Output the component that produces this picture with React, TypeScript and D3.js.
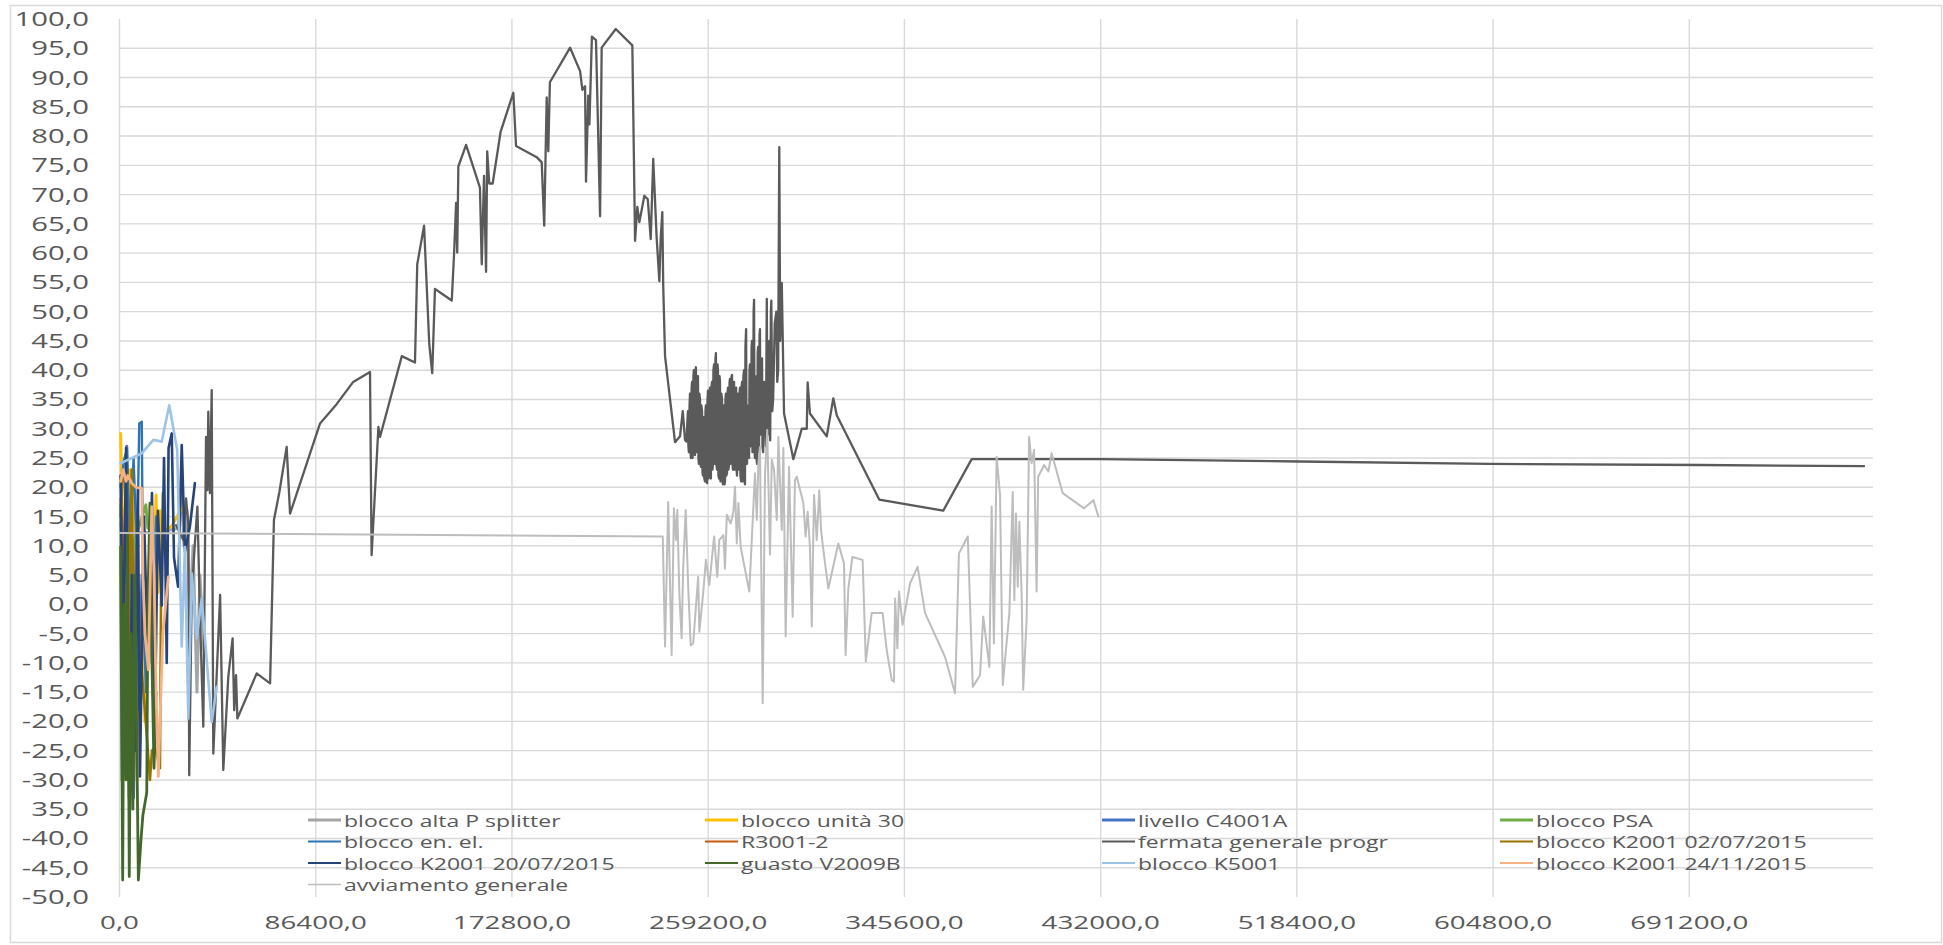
import React from "react";
import * as d3 from "d3";

type Pt = [number, number];

// ---------- axis ticks ----------
const xTickValues = [0, 86400, 172800, 259200, 345600, 432000, 518400, 604800, 691200];
const xTickLabels = ["0,0", "86400,0", "172800,0", "259200,0", "345600,0", "432000,0", "518400,0", "604800,0", "691200,0"];
const yTickValues = [100, 95, 90, 85, 80, 75, 70, 65, 60, 55, 50, 45, 40, 35, 30, 25, 20, 15, 10, 5, 0, -5, -10, -15, -20, -25, -30, -35, -40, -45, -50];
const yTickLabels = ["100,0", "95,0", "90,0", "85,0", "80,0", "75,0", "70,0", "65,0", "60,0", "55,0", "50,0", "45,0", "40,0", "35,0", "30,0", "25,0", "20,0", "15,0", "10,0", "5,0", "0,0", "-5,0", "-10,0", "-15,0", "-20,0", "-25,0", "-30,0", "35,0", "-40,0", "-45,0", "-50,0"];
const yGridValues = [95, 90, 85, 80, 75, 70, 65, 60, 55, 50, 45, 40, 35, 30, 25, 20, 15, 10, 5, 0, -5, -10, -15, -20, -25, -30, -35, -40, -45];

// ---------- series data: [seconds, value] ----------
const bloccoAltaPSplitter: Pt[] = [
  [500, 12.2], [17800, 12.3], [25800, 13], [27100, 20], [28400, 10], [29700, 16], [31000, -2], [32400, 10], [34100, -15], [35400, 5], [37200, -8],
];
const bloccoUnita30: Pt[] = [
  [500, 29.2], [1100, 18], [2000, 11], [2900, -28], [3700, 15], [4600, 23], [6100, 23], [6800, -10], [7700, -30], [8600, 2], [9900, 1.3],
  [11200, -20], [12500, -5], [13400, 13], [14700, -3], [16100, 18.7], [16900, 2], [17800, 16], [20000, 12.5], [23000, 13.4], [27400, 16.4],
];
const livelloC4001A: Pt[] = [
  [500, 14], [2000, 5], [3200, 27], [4000, -22], [5100, 18], [6200, -33], [7300, 12], [8600, -18], [9900, 5],
];
const bloccoPSA: Pt[] = [
  [500, 17], [1100, -30], [2000, -28], [3300, 5], [4600, -20], [5900, 10], [11600, 17], [12500, 13],
];
const bloccoEnEl: Pt[] = [
  [500, 20], [2000, 24.7], [3300, 26.5], [4600, 10], [6200, 25], [7700, 8], [8700, 30.9], [9800, 31.2], [10400, 0], [11700, -15], [13000, 5], [14300, -10], [16100, 15],
];
const r3001_2: Pt[] = [
  [500, 18], [1100, 14], [1700, 6.4], [2400, -10], [3300, 15], [4200, 0], [5100, -12], [5900, 8],
];
const fermataGeneraleProgr: Pt[] = [
  [24900, 13.5], [28100, 11.0], [29300, 18.1], [30300, 13.8], [30700, -29.2], [31800, 1.9], [33200, 10.4], [34300, 16.7], [35400, -1.5],
  [36900, -20.9], [38100, 28.6], [38700, 19.5], [39100, 32.9], [39800, 19.0], [40600, 36.6], [41300, -25.5], [44300, 1.6], [45700, -28.3],
  [47900, -12.4], [49800, -5.8], [50500, -18.1], [51300, -12.1], [51900, -19.5], [60400, -11.8], [66300, -13.5], [68000, 14.4], [70400, 19.2],
  [73600, 26.9], [75100, 15.5], [88300, 30.9], [95600, 34.2], [102900, 38.0], [110300, 39.7], [111000, 8.4], [114000, 30.3], [114700, 28.6],
  [124300, 42.4], [130100, 41.3], [131100, 58.1], [134100, 64.7], [136400, 44.4], [137700, 39.5], [138900, 53.9], [142600, 52.9], [146300, 51.9],
  [147300, 59.8], [148200, 68.6], [148700, 60.1], [149200, 74.8], [152600, 78.5], [158700, 71.2], [159500, 58.1], [160500, 73.2], [161400, 56.8],
  [161900, 77.4], [162800, 71.9], [164300, 71.9], [167800, 80.7], [173400, 87.4], [174600, 78.3], [183700, 76.4], [185900, 75.5], [187000, 64.7],
  [188100, 86.6], [188800, 77.4], [189500, 89.2], [198400, 95.1], [202800, 91.1], [203800, 87.9], [205000, 88.5], [205400, 72.2], [206400, 86.9],
  [206900, 82.0], [208000, 97.0], [209800, 96.4], [211600, 66.3], [212300, 95.1], [218500, 98.3], [225800, 95.5], [227000, 62.1], [228000, 67.9],
  [228900, 65.3], [231100, 69.8], [232600, 69.2], [233900, 62.4], [235000, 76.1], [236500, 62.7], [237700, 55.2], [238300, 62.7], [239000, 67.0],
  [239400, 54.5], [240200, 42.4], [244600, 27.7], [246800, 28.7], [248000, 33.0], [249000, 28.1],
  [249700, 27.8], [250000, 31], [250300, 33], [250500, 27], [250700, 26], [251000, 34], [251200, 36], [251400, 26], [251600, 25], [251900, 37],
  [252100, 38], [252300, 25], [252500, 26], [252700, 39], [252900, 40], [253100, 26], [253400, 25.5], [253600, 40], [253800, 40.5], [254000, 26],
  [254300, 27], [254500, 38], [254700, 39], [254900, 25], [255100, 24], [255300, 36], [255600, 35], [255800, 24], [256000, 23.5], [256200, 34],
  [256500, 33], [256700, 22.5], [256900, 22], [257100, 32], [257300, 31], [257500, 21.5], [257800, 21], [258000, 33], [258200, 34], [258400, 21],
  [258700, 20.7], [258900, 35], [259100, 36.5], [259300, 21.5], [259500, 22], [259800, 36], [260000, 37], [260200, 22], [260400, 21.5], [260600, 37],
  [260900, 38], [261100, 23], [261300, 24], [261500, 40], [261800, 41], [262000, 24], [262200, 25], [262400, 42], [262600, 42.9], [262800, 24],
  [263100, 23], [263300, 41], [263500, 40], [263700, 22], [264000, 21.5], [264200, 39], [264400, 38], [264600, 21], [264800, 22], [265000, 36],
  [265300, 35], [265500, 21], [265700, 20.5], [265900, 33], [266200, 34], [266400, 20.5], [266600, 21], [266800, 35], [267000, 36], [267200, 22],
  [267500, 22.5], [267700, 36], [267900, 37], [268100, 23], [268400, 24], [268600, 38], [268800, 38.5], [269000, 24], [269300, 25], [269500, 39],
  [269700, 39.2], [269900, 24], [270100, 23], [270300, 37], [270600, 38], [270800, 23], [271000, 24], [271200, 36], [271500, 37], [271700, 23],
  [271900, 22], [272100, 35], [272300, 36], [272500, 23], [272800, 23.5], [273000, 36], [273200, 37], [273400, 22], [273700, 21], [273900, 37],
  [274100, 38], [274300, 21], [274500, 22], [274700, 39], [275000, 40], [275200, 21], [275400, 20.5], [275600, 44], [275900, 47], [276100, 25],
  [276300, 24], [276500, 34], [276800, 33], [277000, 26], [277200, 25], [277400, 40], [277600, 41], [277800, 27], [278100, 28], [278300, 44],
  [278500, 45], [278700, 26], [279000, 27], [279200, 50], [279400, 52], [279600, 26], [279800, 25], [280000, 39], [280300, 38], [280500, 25],
  [280700, 24], [281000, 43], [281200, 44], [281400, 26], [281600, 27], [281800, 46], [282000, 47], [282200, 29], [282500, 30], [282700, 41],
  [282900, 42], [283100, 27], [283400, 26], [283800, 38], [284200, 36], [284600, 27], [285000, 52.2], [285300, 29], [285600, 30], [285800, 44],
  [286100, 45], [286300, 29], [286500, 28], [286800, 50], [287000, 51.9], [287400, 33], [287800, 35], [288500, 48], [289200, 50], [289600, 38],
  [290000, 40], [290500, 78.1], [290900, 45], [291600, 54.9], [292600, 32.6],
  [296700, 24.8], [300400, 30.0], [302600, 30.0], [303000, 37.9], [304000, 32.6], [311400, 28.7], [314300, 35.2], [315800, 32.3], [334500, 17.9],
  [362700, 16.0], [375200, 24.8], [432000, 24.8], [519800, 24.4], [603400, 24.0], [695900, 23.8], [768100, 23.6],
];
const bloccoK2001_0207: Pt[] = [
  [500, 15], [1500, 22], [2900, 23], [3700, -5], [5400, 23], [6400, -20], [7700, 10], [9000, -8], [11200, -18.1], [13400, -30],
  [14300, -25], [15600, -24.3], [17800, -28], [18300, 2], [19100, 19],
];
const bloccoK2001_2007: Pt[] = [
  [500, 22], [1500, -12], [2900, 26.7], [4200, -33], [5500, 5], [6800, -25], [8100, 20], [9000, -29.4], [10800, 15], [12500, -10],
  [14300, 19], [15600, -20.9], [16900, 16], [18600, -0.2], [19600, 25], [20800, -10], [21600, 26.7], [23000, 29.2], [24000, 8], [25800, 3],
  [27400, 27.2], [28800, 9], [31000, 13.3], [33200, 20.7],
];
const guastoV2009B: Pt[] = [
  [500, 9.8], [1400, -47.1], [2000, 0], [2900, -30], [3500, 12], [4300, -46.5], [5100, -5], [5900, -35], [6800, 5], [8300, -47.1],
  [9500, -40], [10300, -36], [12000, -32.2], [12500, 0], [13400, 17.3], [14300, -10], [15200, -28], [16100, -15],
];
const bloccoK5001: Pt[] = [
  [500, 24.1], [9800, 25.8], [14900, 28.1], [18600, 27.8], [21900, 34.0], [25400, 26.4], [27400, -7.2], [28800, 9.8], [30300, -19.5],
  [31800, 5.3], [34000, -5.8], [36200, 1.0], [40600, -20.1], [42800, -14.1],
];
const bloccoK2001_2411: Pt[] = [
  [500, 21], [1600, 23], [2900, 21], [3700, 22], [5400, 20.7], [7300, 20], [9800, 19.8], [10300, 5], [11200, -5], [12700, -11.2],
  [14200, 16.7], [15200, 5], [16100, -15], [17100, -29.4], [17800, -20], [19100, -5], [21500, 4.7],
];
const avviamentoGenerale: Pt[] = [
  [0, 12.2], [239200, 11.6], [240200, -7.2], [241600, 17.5], [243100, -8.7], [244100, 16.4], [245000, 11.0], [245600, 16.1], [246500, 1.9],
  [247500, -5.8], [248200, 6.4], [249300, 16.1], [250400, 3.0], [251500, -7.0], [252600, -6.7], [253800, -0.4], [254800, 4.7], [255300, -4.7],
  [257000, 1.9], [258200, 7.6], [259700, 3.3], [261800, 11.6], [263200, 4.7], [264100, 11.0], [265900, 11.8], [266600, 6.1], [267400, 15.3],
  [269100, 13.8], [270300, 15.8], [271000, 20.1], [271800, 10.4], [272500, 17.3], [273500, 9.8], [277300, 2.2], [279800, 22.4], [280600, 14.4],
  [281300, 24.1], [282000, 26.9], [283200, -16.9], [284200, 21.8], [285200, 29.8], [286400, 8.5], [287200, 24.7], [288200, 23.0], [289400, 14.4],
  [290100, 28.6], [291600, 12.7], [292300, 26.7], [293300, -5.5], [294800, 23.5], [296400, -2.1], [297400, 21.2], [298200, 21.8], [301100, 17.3],
  [302100, 11.6], [303000, 15.8], [304000, 9.8], [304800, -3.8], [305800, 18.7], [307000, 11.0], [308100, 19.5], [308900, 12.7], [309900, 9.3],
  [312100, 2.7], [316500, 10.4], [319000, 7.0], [319700, -8.7], [320900, 2.7], [322700, 8.1], [327200, 7.6], [328600, -9.8], [331200, -1.5],
  [336000, -1.5], [337800, -7.8], [340000, -12.9], [341000, -13.2], [341500, 1.0], [342500, -7.5], [343200, 2.2], [344800, -3.5], [348100, 3.6],
  [351400, 6.4], [354700, -1.5], [363500, -9.0], [367900, -15.2], [369600, 8.7], [373500, 11.6], [375700, -14.1], [378900, -12.1], [380300, -2.1],
  [383000, -10.7], [384000, 16.7], [385000, -6.7], [386200, 25.2], [387700, 18.7], [388900, -13.8], [390300, -7.8], [391800, -1.5], [393300, 19.2],
  [394000, 0.7], [394700, 15.5], [395500, 3.0], [396200, 14.1], [397200, 1.9], [397900, -14.6], [399400, -2.7], [400500, 28.6], [401600, 24.1],
  [402700, 26.4], [403800, 2.2], [404500, 21.8], [407100, 23.8], [409000, 22.7], [410400, 25.8], [415300, 19.0], [424700, 16.4], [428800, 17.8],
  [431000, 15.0],
];

const seriesNames = [
  "blocco alta P splitter", "blocco unità 30", "livello C4001A", "blocco PSA",
  "blocco en. el.", "R3001-2", "fermata generale progr", "blocco K2001 02/07/2015",
  "blocco K2001 20/07/2015", "guasto V2009B", "blocco K5001", "blocco K2001 24/11/2015",
  "avviamento generale",
];
const seriesData: Pt[][] = [
  bloccoAltaPSplitter, bloccoUnita30, livelloC4001A, bloccoPSA,
  bloccoEnEl, r3001_2, fermataGeneraleProgr, bloccoK2001_0207,
  bloccoK2001_2007, guastoV2009B, bloccoK5001, bloccoK2001_2411,
  avviamentoGenerale,
];

// ---------- styles ----------
const seriesColors = [
  "#A5A5A5", "#FFC000", "#4472C4", "#70AD47",
  "#2E75B6", "#C55A11", "#5A5A5A", "#997300",
  "#264478", "#43682B", "#9DC3E6", "#F4B183",
  "#BDBDBD",
];
const seriesWidths = [3, 3, 3, 3, 2.4, 2.4, 2.3, 2.6, 2.6, 2.8, 2.6, 2.8, 2];
const legendWidths = [3.2, 3.2, 3.2, 3.2, 2, 2, 2, 2, 2, 2, 2, 2, 1.5];

const FONT = "'Open Sans', 'DejaVu Sans', sans-serif";
const TEXT = "#595959";
const GRID = "#D9D9D9";

function SText(props: { x: number; y: number; anchor: string; size: number; sx: number; children: React.ReactNode }) {
  const { x, y, anchor, size, sx, children } = props;
  return (
    <text
      transform={`translate(${x},${y}) scale(${sx},1)`}
      textAnchor={anchor as any}
      fontSize={size}
      fontFamily={FONT}
      fill={TEXT}
    >
      {children}
    </text>
  );
}

export default function App() {
  const W = 1943;
  const H = 945;
  const plotLeft = 119.5;
  const plotTop = 19;
  const plotBottom = 897;
  const xMax = 772000;
  const pxPerSec = 1 / 440.3;
  const plotRight = plotLeft + xMax * pxPerSec;

  const x = d3.scaleLinear().domain([0, xMax]).range([plotLeft, plotRight]);
  const y = d3.scaleLinear().domain([-50, 100]).range([plotBottom, plotTop]);
  const line = d3
    .line<Pt>()
    .x((d) => x(d[0]))
    .y((d) => y(d[1]));

  const legendCols = [308, 705, 1102, 1500];
  const legendRows = [820, 841.5, 863, 884.5];

  return (
    <svg
      width={W}
      height={H}
      style={{ position: "absolute", left: 0, top: 0, display: "block", background: "#fff" }}
    >
      <rect x={10.5} y={5.5} width={1931} height={937} fill="#fff" stroke={GRID} strokeWidth={1.5} />

      {yGridValues.map((v) => (
        <line key={"h" + v} x1={plotLeft} x2={plotRight} y1={y(v)} y2={y(v)} stroke={GRID} strokeWidth={1.4} />
      ))}
      {xTickValues.map((v) => (
        <line key={"v" + v} x1={x(v)} x2={x(v)} y1={plotTop} y2={plotBottom} stroke={GRID} strokeWidth={1.4} />
      ))}

      {yTickValues.map((v, i) => (
        <SText key={"yl" + v} x={89} y={y(v) + 7} anchor="end" size={19.5} sx={1.5}>
          {yTickLabels[i]}
        </SText>
      ))}
      {xTickValues.map((v, i) => (
        <SText key={"xl" + v} x={x(v)} y={929} anchor="middle" size={18.5} sx={1.5}>
          {xTickLabels[i]}
        </SText>
      ))}

      <g fill="none" strokeLinejoin="round" strokeLinecap="round">
        {seriesData.map((data, i) => (
          <path key={"s" + i} d={line(data) || ""} stroke={seriesColors[i]} strokeWidth={seriesWidths[i]} />
        ))}
      </g>

      {seriesNames.map((name, i) => {
        const col = i % 4;
        const row = Math.floor(i / 4);
        const lx = legendCols[col];
        const ly = legendRows[row];
        return (
          <g key={"lg" + i}>
            <line x1={lx} x2={lx + 33} y1={ly} y2={ly} stroke={seriesColors[i]} strokeWidth={legendWidths[i]} />
            <SText x={lx + 36} y={ly + 6.5} anchor="start" size={16} sx={1.44}>
              {name}
            </SText>
          </g>
        );
      })}
    </svg>
  );
}
